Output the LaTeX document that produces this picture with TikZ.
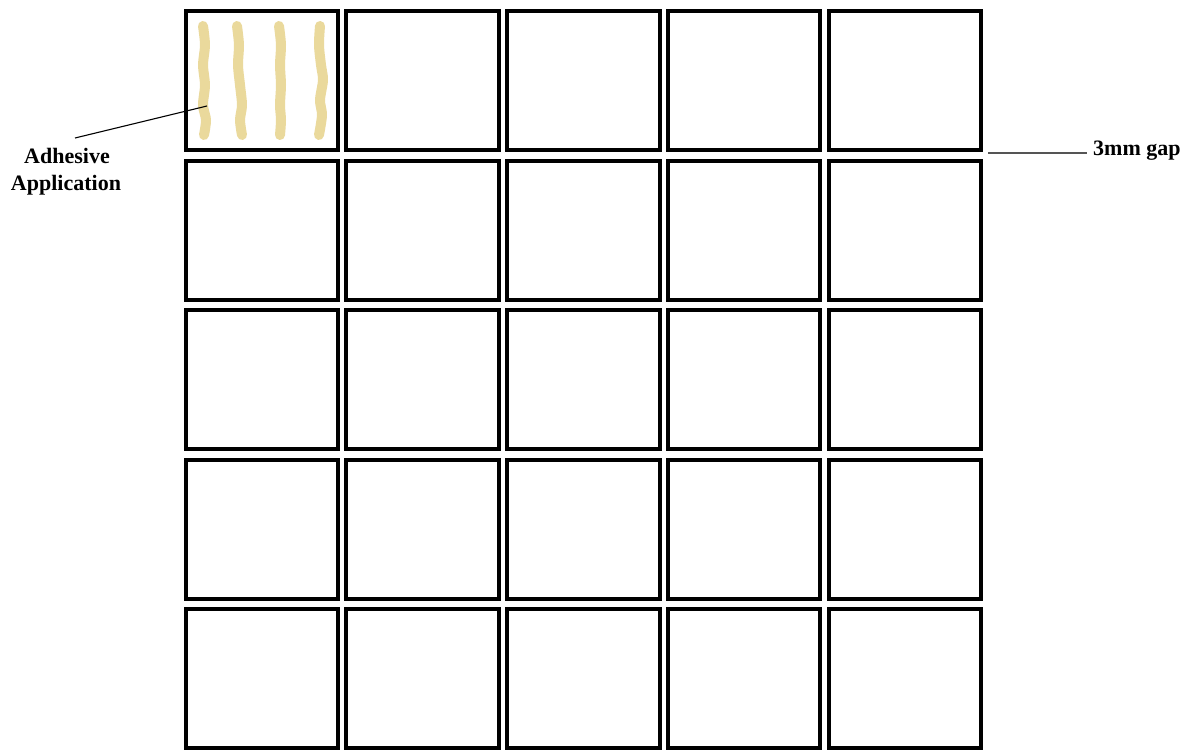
\documentclass[tikz,border=0pt]{standalone}
\usepackage{fontspec}
\setmainfont{Liberation Serif}
\definecolor{glue}{HTML}{EAD99C}
\definecolor{leadgray}{HTML}{555555}
\tikzset{
  tile/.style={draw=black, line width=4pt, minimum width=152.5pt, minimum height=139pt, inner sep=0pt, fill=white},
  strip/.style={draw=glue, line width=10pt, line cap=round, line join=round},
  lbl/.style={font=\bfseries\fontsize{22}{25}\selectfont, inner sep=0pt, align=center},
  leader/.style={draw=black, line width=1.1pt}
}
\begin{document}
\begin{tikzpicture}[x=1pt,y=-1pt]
\useasboundingbox (0,0) rectangle (1194,752);
\fill[white] (0,0) rectangle (1194,752);
\foreach \i in {0,...,4}{
  \foreach \j in {0,...,4}{
    \node[tile] (sq-\i-\j) at ({261.75+160.8*\i},{80.5+149.5*\j}) {};
  }
}
% adhesive strips
\draw[strip] plot[smooth] coordinates {(203,26) (205,45) (203,65) (205,85) (203,105) (206,120) (204,135)};
\draw[strip] plot[smooth] coordinates {(237,26) (239,45) (238,65) (240,85) (242,105) (240,120) (242,135)};
\draw[strip] plot[smooth] coordinates {(279,26) (281,45) (280,65) (281,85) (280,105) (281,120) (280,135)};
\draw[strip] plot[smooth] coordinates {(320,26) (319,45) (321,65) (323,80) (320,100) (322,115) (319,135)};
% labels
\node[lbl, anchor=base] (adh) at (67,163) {Adhesive};
\node[lbl, anchor=base] (app) at (66,190) {Application};
\coordinate (adhstart) at (75,138);
\coordinate (adhend) at (207,106);
\draw[leader] (adhstart) -- (adhend);
\node[lbl, anchor=base west] (gap) at (1093,155) {3mm gap};
\coordinate (gapstart) at (988,153);
\coordinate (gapend) at (1087,153);
\draw[draw=leadgray, line width=1.2pt] (gapstart) -- (gapend);
\end{tikzpicture}
\end{document}
